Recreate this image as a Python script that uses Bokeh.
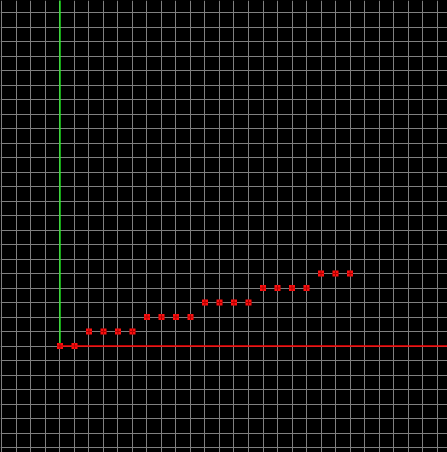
import math
from bokeh.plotting import figure
from bokeh.models import SingleIntervalTicker, Range1d, ColumnDataSource
from bokeh.embed import file_html
from bokeh.resources import INLINE

# data
xs = list(range(21))
ys = [0, 0, 1, 1, 1, 1, 2, 2, 2, 2, 3, 3, 3, 3, 4, 4, 4, 4, 5, 5, 5]

W, H = 447, 452
p = figure(width=W, height=H, output_backend="svg", toolbar_location=None,
           x_range=Range1d(-4.1034, 26.7241), y_range=Range1d(-7.3448, 23.8276),
           min_border=0, background_fill_color="black", border_fill_color="black",
           outline_line_color=None)
p.xaxis.visible = False
p.yaxis.visible = False
p.xgrid.ticker = SingleIntervalTicker(interval=1)
p.ygrid.ticker = SingleIntervalTicker(interval=1)
for g in (p.xgrid, p.ygrid):
    g.grid_line_color = "#808080"
    g.grid_line_width = 1
    g.grid_line_alpha = 1.0

# axis rays from the origin
p.ray(x=[0], y=[0], length=0, angle=math.pi / 2, line_color="#22ff22", line_width=1.3)
p.ray(x=[0], y=[0], length=0, angle=0, line_color="#ff0000", line_width=1.3)

src = ColumnDataSource(dict(x=xs, y=ys))
p.scatter("x", "y", source=src, marker="square", size=6, fill_color="#ff1010",
          line_color=None)
p.scatter("x", "y", source=src, marker="cross", size=6, line_color="#b00000",
          line_width=1)

html = file_html(p, INLINE)
html = html.replace("<head>", "<head><style>html,body{margin:0;padding:0;background:black;overflow:hidden}</style>", 1)
open("out.html", "w").write(html)
